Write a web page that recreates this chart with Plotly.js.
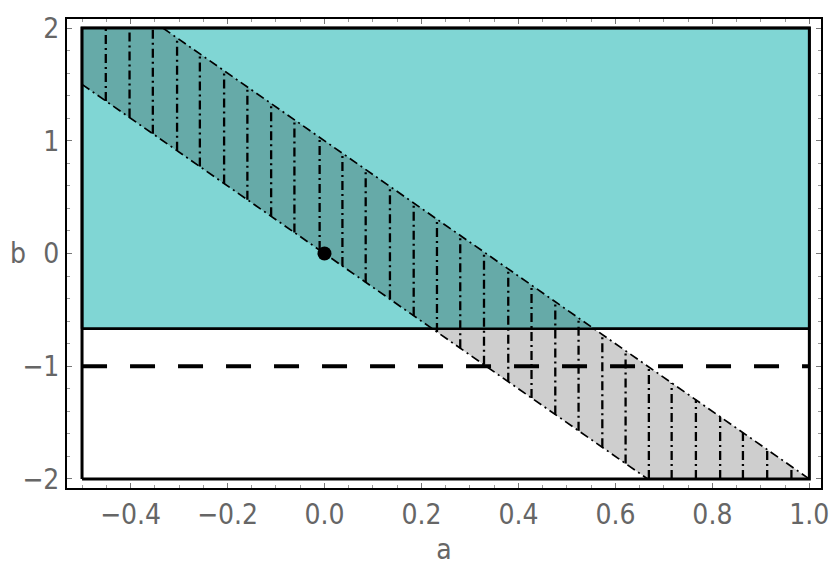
<!DOCTYPE html>
<html>
<head>
<meta charset="utf-8">
<script src="https://cdn.plot.ly/plotly-3.0.1.min.js"></script>
<style>html,body{margin:0;padding:0;background:#fff;}#chart{width:834px;height:586px;}</style>
</head>
<body>
<div id="chart"></div>
<script>
// ---- data ----
const aLimits = [-0.5, 1.0];          // region in a
const bLimits = [-2, 2];              // region in b
const tealBottom = -0.667;            // lower edge of teal region
const dashedB = -1;                   // dashed horizontal line
const bandSlope = -3;                 // band boundaries b = slope*a + intercept
const lowerIntercept = 0;
const upperIntercept = 1;
const pointA = [0];
const pointB = [0];
const hatchA = [-0.451, -0.402, -0.354, -0.304, -0.257, -0.207, -0.159, -0.110, -0.062, -0.010,
                0.037, 0.085, 0.135, 0.184, 0.232, 0.280, 0.329, 0.379, 0.427, 0.476,
                0.524, 0.573, 0.621, 0.669, 0.716, 0.766, 0.816, 0.863, 0.913, 0.963];
const xTicks = [-0.4, -0.2, 0.0, 0.2, 0.4, 0.6, 0.8, 1.0];
const yTicks = [-2, -1, 0, 1, 2];

// ---- derived geometry ----
const lineA = (b, c) => (b - c) / bandSlope;
const lineB = (a, c) => bandSlope * a + c;
const a0 = aLimits[0], a1 = aLimits[1], b0 = bLimits[0], b1 = bLimits[1];

const traces = [];
// teal region
traces.push({x:[a0,a1,a1,a0,a0], y:[tealBottom,tealBottom,b1,b1,tealBottom], mode:'lines', fill:'toself',
  fillcolor:'rgb(128,214,212)', line:{color:'black', width:2.5}, hoverinfo:'skip'});
// band parts
const upperTopA = lineA(b1, upperIntercept);
const upperMidA = lineA(tealBottom, upperIntercept);
const lowerMidA = lineA(tealBottom, lowerIntercept);
const lowerLeftB = lineB(a0, lowerIntercept);
const lowerBotA = lineA(b0, lowerIntercept);
const upperRightB = lineB(a1, upperIntercept);
traces.push({x:[a0, upperTopA, upperMidA, lowerMidA, a0, a0], y:[b1, b1, tealBottom, tealBottom, lowerLeftB, b1],
  mode:'lines', fill:'toself', fillcolor:'rgb(102,170,168)', line:{width:0}, hoverinfo:'skip'});
traces.push({x:[lowerMidA, upperMidA, a1, lowerBotA, lowerMidA], y:[tealBottom, tealBottom, upperRightB, b0, tealBottom],
  mode:'lines', fill:'toself', fillcolor:'rgb(206,206,206)', line:{width:0}, hoverinfo:'skip'});
// hatch lines
const hx = [], hy = [];
hatchA.forEach(a => {
  hx.push(a, a, null);
  hy.push(Math.max(lineB(a, lowerIntercept), b0), Math.min(lineB(a, upperIntercept), b1), null);
});
traces.push({x:hx, y:hy, mode:'lines', line:{color:'black', width:2.3, dash:'9px,4px,2px,4px'}, hoverinfo:'skip'});
// band boundaries
traces.push({x:[upperTopA, a1], y:[b1, upperRightB], mode:'lines', line:{color:'black', width:1.7, dash:'9px,4px,2px,4px'}, hoverinfo:'skip'});
traces.push({x:[a0, lowerBotA], y:[lowerLeftB, b0], mode:'lines', line:{color:'black', width:1.7, dash:'9px,4px,2px,4px'}, hoverinfo:'skip'});
// outer rectangle
traces.push({x:[a0,a1,a1,a0,a0], y:[b0,b0,b1,b1,b0], mode:'lines', line:{color:'black', width:3}, hoverinfo:'skip'});
// teal bottom edge again on top
traces.push({x:[a0,a1], y:[tealBottom,tealBottom], mode:'lines', line:{color:'black', width:2.5}, hoverinfo:'skip'});
// dashed line
traces.push({x:[a0,a1], y:[dashedB,dashedB], mode:'lines', line:{color:'black', width:4, dash:'25px,23px'}, hoverinfo:'skip'});
// point
traces.push({x:pointA, y:pointB, mode:'markers', marker:{color:'black', size:14}, hoverinfo:'skip'});

const fontFam = '"Liberation Sans Narrow", "DejaVu Sans Condensed", "Liberation Sans", Arial, sans-serif';
const fsize = 28;
const layout = {
  width:834, height:586,
  margin:{l:67, r:13, t:19, b:98},
  paper_bgcolor:'white', plot_bgcolor:'white',
  showlegend:false,
  font:{family:fontFam, color:'#666', size:fsize},
  xaxis:{range:[-0.531, 1.024], tickvals:xTicks, tickformat:'.1f', ticks:'inside', ticklen:5, tickwidth:1, tickcolor:'#777',
    minor:{dtick:0.05, tick0:0, ticks:'inside', ticklen:3, tickcolor:'#999', showgrid:false},
    showgrid:false, zeroline:false, showline:true, mirror:'ticks', linecolor:'black', linewidth:2,
    tickfont:{family:fontFam, size:fsize, color:'#666'},
    title:{text:'a', font:{family:fontFam, size:fsize, color:'#666'}, standoff:10}},
  yaxis:{range:[-2.08, 2.08], tickvals:yTicks, ticks:'inside', ticklen:5, tickwidth:1, tickcolor:'#777',
    minor:{dtick:0.2, tick0:0, ticks:'inside', ticklen:3, tickcolor:'#999', showgrid:false},
    showgrid:false, zeroline:false, showline:true, mirror:'ticks', linecolor:'black', linewidth:2,
    tickfont:{family:fontFam, size:fsize, color:'#666'}},
  annotations:[{text:'b', xref:'paper', yref:'y', x:0, y:0, xanchor:'center', yanchor:'middle', xshift:-49, showarrow:false,
    font:{family:fontFam, size:fsize, color:'#666'}}]
};
Plotly.newPlot('chart', traces, layout, {staticPlot:true});
</script>
</body>
</html>
